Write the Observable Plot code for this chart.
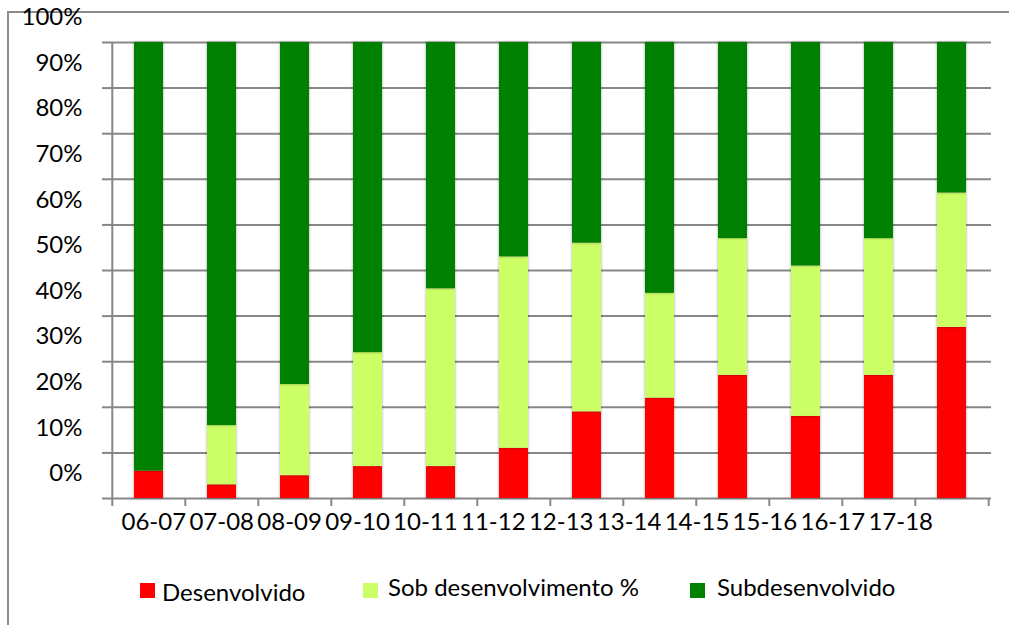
<!DOCTYPE html>
<html>
<head>
<meta charset="utf-8">
<script src="https://cdn.jsdelivr.net/npm/d3@7"></script>
<script src="https://cdn.jsdelivr.net/npm/@observablehq/plot@0.6"></script>
<style>
  html, body { margin: 0; padding: 0; background: #fff; overflow: hidden; }
  #wrap { position: relative; width: 1009px; height: 625px; overflow: hidden; font-family: Lato, "Noto Sans", sans-serif; }
  #border { position: absolute; left: 7px; top: 11px; width: 1200px; height: 800px;
            border-left: 2px solid #8c8c8c; border-top: 2px solid #8c8c8c; }
  #chart { position: absolute; left: 0; top: 0; }
  #legend { position: absolute; left: 0; top: 560px; }
  g[aria-label="bar"] rect { filter: drop-shadow(0 0 1.5px rgba(0,0,0,0.35)); }
</style>
</head>
<body>
<div id="wrap">
  <div id="border"></div>
  <div id="chart"></div>
  <svg id="legend" width="1009" height="65"></svg>
</div>
<script>
// ---- data ----
const categories = ["06-07", "07-08", "08-09", "09-10", "10-11", "11-12",
                    "12-13", "13-14", "14-15", "15-16", "16-17", "17-18"];
const desenvolvido       = [6, 3, 5, 7, 7, 11, 19, 22, 27, 18, 27, 37.5];
const sobDesenvolvimento = [0, 13, 20, 25, 39, 42, 37, 23, 30, 33, 30, 29.5];
const subdesenvolvido    = [94, 84, 75, 68, 54, 47, 44, 55, 43, 49, 43, 33];
const seriesNames  = ["Desenvolvido", "Sob desenvolvimento %", "Subdesenvolvido"];
const seriesColors = ["#ff0000", "#ccff66", "#008000"];
const yTicks = [0, 10, 20, 30, 40, 50, 60, 70, 80, 90, 100];

// ---- table built from the arrays ----
const seriesValues = [desenvolvido, sobDesenvolvimento, subdesenvolvido];
const table = [];
categories.forEach((c, i) => {
  seriesNames.forEach((s, k) => table.push({cat: c, series: s, value: seriesValues[k][i]}));
});

// ---- layout ----
const W = 1009, H = 560, mL = 110, mR = 18, mT = 42, mB = 62;
const step = (W - mL - mR) / categories.length;
const gridColor = "#878787";
const font = 24;
const fontFamily = 'Lato, "Noto Sans", sans-serif';

const labelMarks = categories.map((c, i) =>
  Plot.text([c], {x: d => d, frameAnchor: "bottom", dy: 24, dx: 4.8 - 5.1 * i,
                  fill: "black", fontSize: font, lineAnchor: "middle"}));

const chart = Plot.plot({
  width: W, height: H,
  marginLeft: mL, marginRight: mR, marginTop: mT, marginBottom: mB,
  x: {type: "band", domain: categories, paddingInner: 0.6, paddingOuter: 0.3, axis: null, label: null},
  y: {domain: [0, 100], axis: null, label: null},
  color: {domain: seriesNames, range: seriesColors},
  style: {fontFamily, fontSize: font + "px", color: "black", background: "transparent", overflow: "visible"},
  marks: [
    Plot.gridY(yTicks, {stroke: gridColor, strokeOpacity: 1, strokeWidth: 2}),
    Plot.barY(table, {x: "cat", y: "value", fill: "series", order: seriesNames}),
    // y axis line
    Plot.ruleX([categories[0]], {dx: -step / 2, stroke: gridColor, strokeWidth: 2}),
    // y ticks
    Plot.axisY({ticks: yTicks, tickSize: 8, tickFormat: () => "", stroke: gridColor, strokeWidth: 2, label: null}),
    // y labels (sitting above their gridline, as in the original)
    Plot.axisY({ticks: yTicks, tickSize: 0, tickPadding: 28, tickFormat: d => d + "%", dy: -25,
                fontSize: font, fill: "black", label: null}),
    // x boundary ticks
    Plot.axisX({ticks: categories, tickSize: 8, tickFormat: () => "", dx: -step / 2, stroke: gridColor, strokeWidth: 2, label: null}),
    Plot.axisX({ticks: [categories[categories.length - 1]], tickSize: 8, tickFormat: () => "", dx: step / 2, stroke: gridColor, strokeWidth: 2, label: null}),
    ...labelMarks
  ]
});
document.getElementById("chart").appendChild(chart);

// ---- legend ----
const legendLayout = [
  {sx: 140, tx: 162, base: 41},
  {sx: 363, tx: 388, base: 36},
  {sx: 690, tx: 717, base: 36}
];
const lg = d3.select("#legend");
seriesNames.forEach((s, k) => {
  const L = legendLayout[k];
  lg.append("rect").attr("x", L.sx).attr("y", 23).attr("width", 15).attr("height", 15).attr("fill", seriesColors[k]);
  lg.append("text").attr("x", L.tx).attr("y", L.base).attr("font-size", font)
    .attr("font-family", fontFamily).attr("fill", "black").text(s);
});
</script>
</body>
</html>
